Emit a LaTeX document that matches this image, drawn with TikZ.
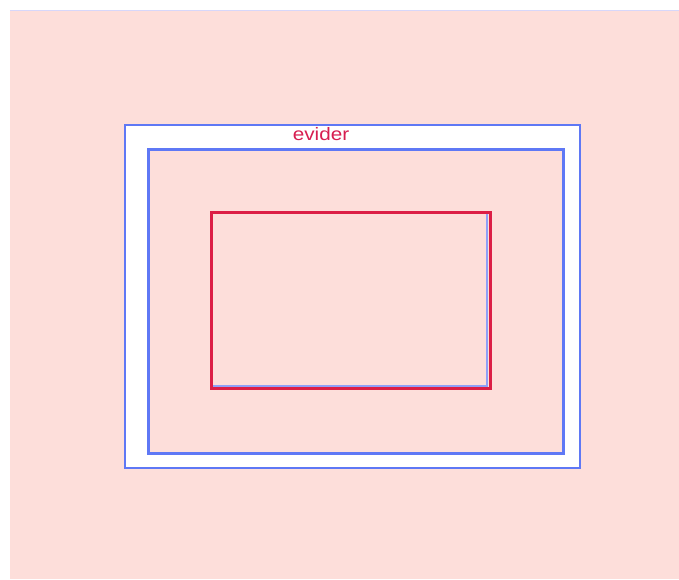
\documentclass[tikz,border=0pt]{standalone}
\usepackage{fontspec}
\setmainfont{Liberation Sans}
\definecolor{bgpink}{RGB}{253,222,218}
\definecolor{lineblue}{RGB}{95,120,245}
\definecolor{thinblue}{RGB}{215,215,250}
\definecolor{crim}{RGB}{220,30,70}
\definecolor{txtred}{RGB}{215,30,80}
\tikzset{
  outerbox/.style={draw=lineblue, line width=1.4pt, fill=white},
  innerbox/.style={draw=lineblue, line width=3pt, fill=bgpink},
  redbox/.style={draw=crim, line width=3pt},
  lbl/.style={text=txtred, font=\fontsize{18}{20}\selectfont, inner sep=0pt, xscale=1.15}
}
\begin{document}
\begin{tikzpicture}[x=1pt,y=-1pt]
\useasboundingbox (0,0) rectangle (679,579);
\fill[white] (0,0) rectangle (679,579);
\fill[bgpink] (10,10) rectangle (679,579);
\draw[thinblue, line width=1.5pt] (10,10.5) -- (679,10.5);
\draw[outerbox] (125,125) rectangle (580,468);
\draw[innerbox] (148,149) rectangle (563,453);
\draw[lineblue!70, line width=1.5pt] (212,386) -- (487,386) -- (487,214);
\draw[redbox] (211,212) rectangle (490,388);
\node[lbl] (label) at (321,134) {evider};
\end{tikzpicture}
\end{document}
